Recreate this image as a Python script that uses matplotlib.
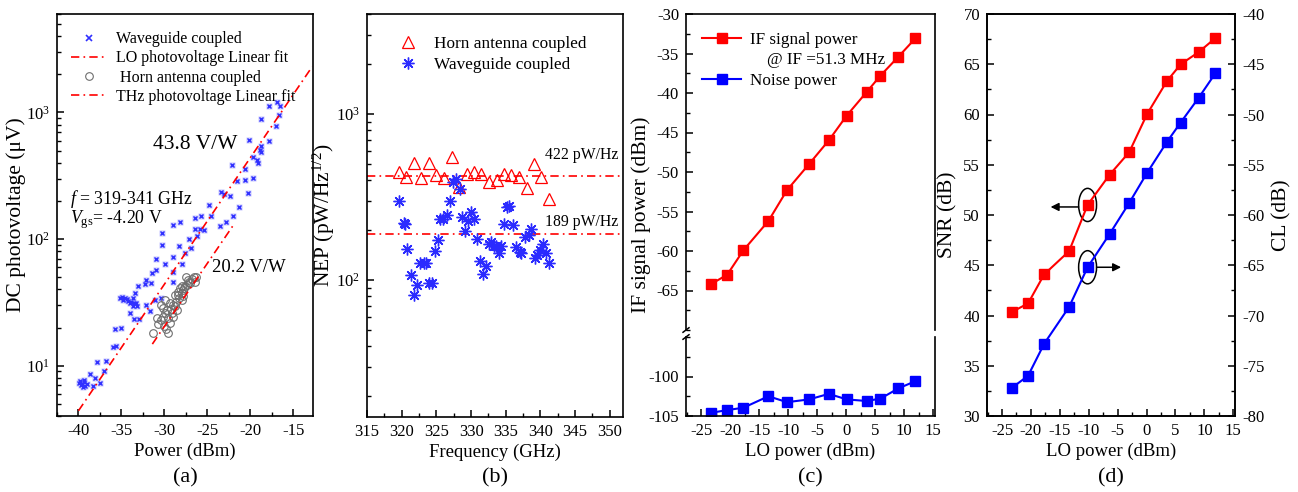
"""Four-panel detector figure: DC photovoltage, NEP, IF/noise power and SNR/CL vs LO power."""
import matplotlib
matplotlib.use("Agg")
import matplotlib.pyplot as plt
from matplotlib.lines import Line2D
from matplotlib.patches import Ellipse
from matplotlib.ticker import MultipleLocator, LogLocator, NullFormatter

plt.rcParams["font.family"] = ["Liberation Serif", "DejaVu Serif"]
plt.rcParams["mathtext.fontset"] = "custom"
plt.rcParams["mathtext.rm"] = "Liberation Serif"
plt.rcParams["mathtext.it"] = "Liberation Serif:italic"
plt.rcParams["axes.unicode_minus"] = False
plt.rcParams["font.size"] = 12
plt.rcParams["axes.linewidth"] = 1.2
plt.rcParams["xtick.direction"] = "in"
plt.rcParams["ytick.direction"] = "in"

# ---------------- (a) DC photovoltage vs power ----------------
wg_power = [-39.8, -39.6, -39.4, -39.7, -39.2, -39.5, -39.9, -39.3, -39.0, -38.7,
            -38.1, -38.3, -37.5, -37.8, -36.8, -37.0, -36.0, -35.6, -35.7, -35.0,
            -35.2, -34.9, -34.6, -34.8, -34.4, -34.2, -33.9, -33.7, -33.5, -33.2,
            -34.0, -33.6, -33.3, -34.0, -33.5, -32.9, -33.4, -33.1, -32.1, -32.2,
            -31.5, -32.1, -31.7, -31.4, -31.0, -31.0, -31.1, -30.4, -30.3, -29.9,
            -29.0, -28.95, -29.0, -28.3, -27.9, -27.6, -26.9, -27.1, -26.2,
            -30.3, -28.95, -28.2, -26.4, -26.4, -25.9, -25.7, -25.4, -24.8, -24.6,
            -23.5, -23.4, -23.1, -22.8, -22.4, -22.0, -22.1, -21.6, -21.3, -20.6,
            -20.6, -20.3, -20.2, -19.7, -19.7, -19.2, -19.1, -18.9, -18.7, -18.7,
            -17.8, -18.7, -17.0, -17.8, -16.7, -16.9, -16.55]
wg_volt = [7.5, 7.2, 7.7, 7.0, 6.9, 6.8, 7.3, 7.4, 7.1, 8.6,
           8.0, 6.9, 7.3, 10.6, 10.8, 9.0, 14.0, 14.2, 19.6, 20.0,
           34.5, 35.0, 34.0, 33.0, 33.5, 32.5, 32.0, 34.5, 31.5, 29.7,
           31.0, 29.5, 31.0, 26.0, 23.5, 23.5, 37.8, 42.7, 47.5, 44.0,
           44.7, 30.2, 26.9, 54.0, 57.0, 69.0, 33.0, 34.0, 90.0, 64.0,
           72.5, 55.0, 46.0, 88.0, 63.0, 77.5, 84.5, 100, 105,
           111, 129, 137, 146, 120, 120, 152, 118, 186, 151,
           126, 236, 228, 137, 217, 151, 382, 288, 178, 295,
           360, 230, 605, 447, 306, 422, 400, 505, 543, 487,
           591, 891, 780, 1120, 964, 1205, 1135]

horn_power = [-31.36, -30.70, -30.43, -30.04, -29.81, -29.61, -30.12, -29.92, -29.53, -29.34,
              -29.73, -29.22, -29.03, -29.34, -28.76, -28.57, -28.64, -28.26, -28.37, -27.98,
              -27.79, -27.87, -28.18, -27.60, -27.40, -27.21, -27.02, -26.82, -26.43, -26.32,
              -27.48, -27.98, -28.95, -29.15, -30.43, -29.92, -28.80, -28.40, -27.70, -27.10,
              -30.90, -30.20, -28.00, -26.60]
horn_volt = [18.1, 21.4, 22.8, 20.4, 19.4, 18.1, 24.4, 26.0, 23.7, 21.7,
             27.6, 27.9, 30.2, 31.1, 29.7, 27.6, 32.1, 34.1, 36.2, 37.4,
             39.7, 35.2, 40.9, 42.2, 43.5, 47.6, 44.8, 48.1, 46.1, 49.9,
             49.9, 42.7, 24.4, 26.0, 30.2, 33.1, 36.0, 38.5, 41.0, 45.5,
             24.0, 28.5, 33.0, 50.5]

lo_fit_power = [-40.0, -12.8]
lo_fit_volt = [4.4, 2300.0]
thz_fit_power = [-31.4, -22.0]
thz_fit_volt = [14.8, 128.0]

# ---------------- (b) NEP vs frequency ----------------
horn_freq = [319.57, 320.68, 321.74, 322.8, 323.9, 324.9, 326.1, 327.2, 328.2, 329.35,
             330.36, 331.5, 332.6, 333.7, 334.7, 335.8, 336.9, 338.0, 339.1, 340.1, 341.2]
horn_nep = [446, 416, 505, 411, 509, 429, 413, 548, 365, 435,
            448, 434, 389, 398, 436, 431, 419, 357, 498, 416, 309]

wg_freq = [319.57, 320.29, 320.49, 320.78, 321.35, 322.17, 321.84, 322.70, 323.18, 323.52,
           324.0, 324.39, 324.82, 325.30, 325.59, 325.93, 326.56, 326.99, 327.38, 327.76,
           328.34, 328.68, 329.06, 329.55, 330.03, 330.41, 330.89, 331.28, 331.66, 332.19,
           332.53, 332.92, 333.25, 333.64, 333.97, 334.36, 334.74, 335.23, 335.47, 336.09,
           336.53, 337.01, 337.25, 337.83, 338.31, 338.70, 339.18, 339.57, 339.90, 340.39,
           340.87, 341.2]
wg_nep = [299, 220, 217, 155, 107, 94, 81, 126, 126, 126,
          96, 96, 150, 174, 232, 233, 245, 299, 391, 404,
          352, 239, 198, 226, 258, 232, 178, 131, 109, 122,
          164, 170, 160, 160, 145, 160, 217, 277, 279, 215,
          159, 148, 146, 181, 187, 202, 135, 142, 152, 165,
          146, 127]
nep_levels = [422, 189]
nep_labels = ["422 pW/Hz", "189 pW/Hz"]
nep_label_y = [566, 223]

# ---------------- (c), (d) vs LO power ----------------
lo_power = [-23.3, -20.5, -17.7, -13.4, -10.2, -6.4, -3.0, 0.1, 3.5, 5.9, 9.0, 11.9]
if_power = [-64.2, -63.0, -59.9, -56.2, -52.3, -49.0, -46.0, -42.85, -39.9, -37.8, -35.4, -33.1]
noise_power = [-104.6, -104.25, -103.95, -102.5, -103.25, -102.9, -102.2, -102.9,
               -103.1, -102.8, -101.5, -100.6]
snr = [40.35, 41.2, 44.1, 46.4, 51.0, 54.0, 56.25, 60.05, 63.3, 65.0, 66.2, 67.6]
cl = [-77.2, -76.0, -72.8, -69.15, -65.2, -61.9, -58.8, -55.8, -52.75, -50.8, -48.35, -45.9]

RED = "#ff0000"
BLUE = "#0000ff"
DASHDOT = (0, (5, 2.5, 1, 2.5))
XLABEL_FS = 13.5
YLABEL_FS = 15.5

W, H = 1298, 492
fig = plt.figure(figsize=(W / 100, H / 100), dpi=100)


def px_axes(l, t, r, b):
    return fig.add_axes([l / W, 1 - b / H, (r - l) / W, (b - t) / H])


def ylabel_at(x, text, y=215):
    fig.text(x / W, 1 - y / H, text, fontsize=YLABEL_FS, rotation=90,
             ha="center", va="center")


def style_ticks(ax, right=False):
    ax.tick_params(which="major", length=5, width=1.1, labelsize=12, pad=5)
    ax.tick_params(which="minor", length=3, width=1.0)
    ax.tick_params(top=False, right=right)


# (a)
ax = px_axes(57, 14, 313, 416)
ax.plot(wg_power, wg_volt, ls="none", marker="s", ms=5, mfc="#b8b8ff", mec="none", alpha=0.8)
ax.plot(wg_power, wg_volt, ls="none", marker="x", ms=3.5, mew=1.0, color="#3030ff")
ax.plot(lo_fit_power, lo_fit_volt, color=RED, lw=1.2, ls=DASHDOT)
ax.plot(horn_power, horn_volt, ls="none", marker="o", ms=5.5, mfc="none", mec="#6e6e6e", mew=0.8)
ax.plot(thz_fit_power, thz_fit_volt, color=RED, lw=1.2, ls=DASHDOT)
ax.set_yscale("log")
ax.set_xlim(-42.5, -12.7)
ax.set_ylim(4, 6000)
ax.xaxis.set_major_locator(MultipleLocator(5))
ax.xaxis.set_minor_locator(MultipleLocator(2.5))
ax.yaxis.set_minor_locator(LogLocator(subs=range(2, 10)))
ax.yaxis.set_minor_formatter(NullFormatter())
style_ticks(ax)
ax.set_xlabel("Power (dBm)", fontsize=XLABEL_FS, labelpad=3)
ylabel_at(16, "DC photovoltage (\u03bcV)")
ax.text(-31.3, 560, "43.8 V/W", fontsize=15.5, va="center")
ax.text(-24.5, 60, "20.2 V/W", fontsize=13.5, va="center")
ax.text(-41.0, 207, r"$\mathit{f}$ = 319-341 GHz", fontsize=12.8, va="center")
ax.text(-41.0, 142, r"$\mathit{V}_{\mathrm{gs}}$= -4.20 V", fontsize=12.8, va="center")
handles = [
    Line2D([], [], ls="none", marker="x", ms=4, mew=1.2, color="#3030ff"),
    Line2D([], [], color=RED, lw=1.2, ls=DASHDOT),
    Line2D([], [], ls="none", marker="o", ms=5.5, mfc="none", mec="#6e6e6e", mew=0.8),
    Line2D([], [], color=RED, lw=1.2, ls=DASHDOT),
]
labels = ["Waveguide coupled", "LO photovoltage Linear fit",
          " Horn antenna coupled", "THz photovoltage Linear fit"]
ax.legend(handles, labels, loc="upper left", bbox_to_anchor=(0.055, 0.957), frameon=False,
          fontsize=11.5, handlelength=2.2, handletextpad=0.6, labelspacing=0.2,
          borderpad=0, borderaxespad=0)
fig.text(185 / W, 1 - 478 / H, "(a)", fontsize=16, ha="center", va="center")

# (b)
ax = px_axes(367, 14, 623, 417)
for lvl, txt, ty in zip(nep_levels, nep_labels, nep_label_y):
    ax.axhline(lvl, color=RED, lw=1.2, ls=DASHDOT)
    ax.text(351.2, ty, txt, fontsize=11.3, ha="right", va="center")
ax.plot(horn_freq, horn_nep, ls="none", marker="^", ms=8, mfc="none", mec=RED, mew=0.9,
        label="Horn antenna coupled")
ax.plot(wg_freq, wg_nep, ls="none", marker=(8, 2, 0), ms=8.5, mew=1.0, color="#2b2bff",
        label="Waveguide coupled")
ax.set_yscale("log")
ax.set_xlim(315, 351.9)
ax.set_ylim(15, 4000)
ax.xaxis.set_major_locator(MultipleLocator(5))
ax.xaxis.set_minor_locator(MultipleLocator(2.5))
ax.yaxis.set_minor_locator(LogLocator(subs=range(2, 10)))
ax.yaxis.set_minor_formatter(NullFormatter())
style_ticks(ax)
ax.set_xlabel("Frequency (GHz)", fontsize=XLABEL_FS, labelpad=3)
ylabel_at(324, r"NEP (pW/Hz$^{1/2}$)")
ax.legend(loc="upper left", bbox_to_anchor=(0.11, 0.945), frameon=False, fontsize=12.4,
          handlelength=1.5, handletextpad=0.75, labelspacing=0.3, borderpad=0,
          borderaxespad=0)
fig.text(495 / W, 1 - 478 / H, "(b)", fontsize=16, ha="center", va="center")

# (c) broken axis
ax_up = px_axes(686, 14, 935, 330)
ax_lo = px_axes(686, 337, 935, 416)
l_if, = ax_up.plot(lo_power, if_power, color=RED, lw=1.5, marker="s", ms=6.5)
l_nz, = ax_lo.plot(lo_power, noise_power, color=BLUE, lw=1.5, marker="s", ms=6.5)
ax_up.set_ylim(-70, -30)
ax_lo.set_ylim(-105, -95)
for a in (ax_up, ax_lo):
    a.set_xlim(-27.6, 15.3)
    a.xaxis.set_major_locator(MultipleLocator(5))
    a.xaxis.set_minor_locator(MultipleLocator(2.5))
    a.yaxis.set_major_locator(MultipleLocator(5))
    a.yaxis.set_minor_locator(MultipleLocator(2.5))
    style_ticks(a)
ax_up.spines["bottom"].set_visible(False)
ax_lo.spines["top"].set_visible(False)
ax_up.tick_params(which="both", bottom=False, labelbottom=False)
ax_up.set_yticks([-30, -35, -40, -45, -50, -55, -60, -65])
ax_lo.set_yticks([-100, -105])
d = 0.012
ax_up.plot([-d, d], [-0.6 * d, 0.6 * d], transform=ax_up.transAxes, color="k",
           lw=1.1, clip_on=False)
ax_lo.plot([-d, d], [1 - 2.4 * d, 1 + 2.4 * d], transform=ax_lo.transAxes, color="k",
           lw=1.1, clip_on=False)
ax_lo.set_xlabel("LO power (dBm)", fontsize=XLABEL_FS, labelpad=3)
ylabel_at(641, "IF signal power (dBm)")
blank = Line2D([], [], ls="none")
ax_up.legend([l_if, blank, l_nz], ["IF signal power", "    @ IF =51.3 MHz", "Noise power"],
             loc="upper left", bbox_to_anchor=(0.064, 0.943), frameon=False, fontsize=12.3,
             handlelength=2.3, handletextpad=0.5, labelspacing=0.25, borderpad=0,
             borderaxespad=0)
fig.text(810 / W, 1 - 478 / H, "(c)", fontsize=16, ha="center", va="center")

# (d)
ax = px_axes(987, 14, 1235, 416)
ax2 = ax.twinx()
ax.plot(lo_power, snr, color=RED, lw=1.5, marker="s", ms=6.5)
ax2.plot(lo_power, cl, color=BLUE, lw=1.5, marker="s", ms=6.5)
ax.set_xlim(-27.6, 15.3)
ax.set_ylim(30, 70)
ax2.set_ylim(-80, -40)
ax.xaxis.set_major_locator(MultipleLocator(5))
ax.xaxis.set_minor_locator(MultipleLocator(2.5))
for a in (ax, ax2):
    a.yaxis.set_major_locator(MultipleLocator(5))
    a.yaxis.set_minor_locator(MultipleLocator(2.5))
style_ticks(ax)
style_ticks(ax2, right=True)
ax.set_xlabel("LO power (dBm)", fontsize=XLABEL_FS, labelpad=3)
ylabel_at(948, "SNR (dB)")
ylabel_at(1282, "CL (dB)")
ax.add_patch(Ellipse((lo_power[4], snr[4]), 3.1, 3.3, fill=False, ec="k", lw=1.1))
ax2.add_patch(Ellipse((lo_power[4], cl[4]), 3.1, 3.3, fill=False, ec="k", lw=1.1))
ax.annotate("", xy=(-16.6, 50.8), xytext=(lo_power[4] - 1.55, 50.8),
            arrowprops=dict(arrowstyle="-|>", color="k", lw=1.1, mutation_scale=12,
                            shrinkA=0, shrinkB=0))
ax2.annotate("", xy=(-4.4, -65.2), xytext=(lo_power[4] + 1.55, -65.2),
             arrowprops=dict(arrowstyle="-|>", color="k", lw=1.1, mutation_scale=12,
                             shrinkA=0, shrinkB=0))
fig.text(1111 / W, 1 - 478 / H, "(d)", fontsize=16, ha="center", va="center")

fig.savefig("out.png", dpi=100)
